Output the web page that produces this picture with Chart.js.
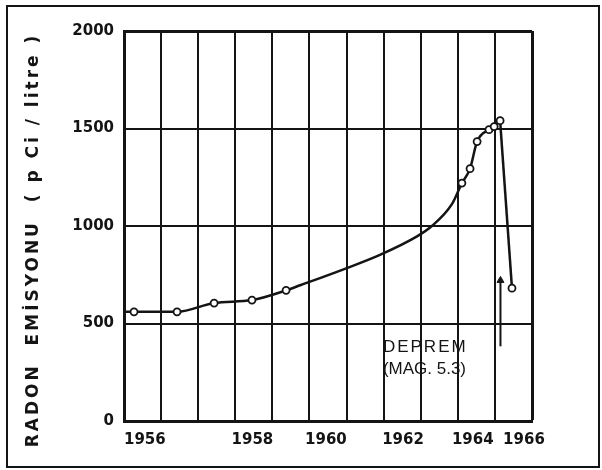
<!DOCTYPE html>
<html lang="tr">
<head>
<meta charset="UTF-8" />
<title>Radon emisyonu 1956-1966</title>
<script src="https://cdn.jsdelivr.net/npm/chart.js"></script>
<style>
  html, body { margin: 0; padding: 0; background: #fff; }
</style>
</head>
<body>
<canvas id="grafik" width="602" height="470"></canvas>
<script>
// x ekseni: her dikey çizgi bir birim (1956 + i); orijinal çizimde yıl etiketleri düzensiz yerleştirilmiş
const yillar = [1956.0, 1956.27, 1957.43, 1958.43, 1959.45, 1960.37, 1960.75, 1961.99, 1962.9, 1963.9,
                1964.3, 1964.84, 1965.11, 1965.33, 1965.52, 1965.84, 1965.98, 1966.14, 1966.46];
const radon = [560, 560, 560, 605, 620, 670, 696, 783, 852, 947,
               1000, 1112, 1220, 1294, 1433, 1494, 1510, 1540, 681];
const olcum = [false, true, true, true, true, true, false, false, false, false,
               false, false, true, true, true, true, true, true, true];
const depremYili = 1966.15;
const okDegerleri = [383, 721];
// etiketlerin çizimdeki yerleri (x ekseni biriminde) ve yazıları
const xEtiketYeri = [1956, 1958.9, 1960.88, 1962.96, 1964.84, 1966.22];
const xEtiketleri = ['1956', '1958', '1960', '1962', '1964', '1966'];

const tepe = radon.indexOf(Math.max(...radon));
const noktalar = yillar.map((x, i) => ({ x, y: radon[i] }));
const yukselis = noktalar.slice(0, tepe + 1);
const dusus = noktalar.slice(tepe);

const siyah = '#141414';

const cerceve = {
  id: 'cerceve',
  beforeDraw(chart) {
    const c = chart.ctx;
    c.save();
    c.fillStyle = '#fff';
    c.fillRect(0, 0, chart.width, chart.height);
    c.strokeStyle = siyah;
    c.lineWidth = 2;
    c.strokeRect(7, 6, 592, 461);
    c.restore();
  }
};

const yBaslik = {
  id: 'yBaslik',
  afterDraw(chart) {
    const c = chart.ctx;
    c.save();
    c.translate(34, 240);
    c.rotate(-Math.PI / 2);
    c.font = 'bold 17px "DejaVu Sans"';
    c.letterSpacing = '3px';
    c.fillStyle = siyah;
    c.textAlign = 'center';
    c.textBaseline = 'middle';
    c.fillText('RADON  EMİSYONU  ( p Ci / litre )', 0, 0);
    c.restore();
  }
};

const depremNotu = {
  id: 'depremNotu',
  afterDatasetsDraw(chart) {
    const { ctx: c, scales: { x, y } } = chart;
    const px = x.getPixelForValue(1962.98);
    const py = y.getPixelForValue(376);
    c.save();
    c.font = '17px "Liberation Sans"';
    c.fillStyle = siyah;
    c.textBaseline = 'middle';
    c.letterSpacing = '2px';
    c.fillText('DEPREM', px, py);
    c.letterSpacing = '0px';
    c.fillText('(MAG. 5.3)', px, py + 22);
    c.restore();
  }
};

const kalin = (c, max) => (c.tick && c.tick.value === max ? 3 : 2);
const yazi = { family: 'DejaVu Sans', size: 15, weight: 'bold' };

new Chart(document.getElementById('grafik'), {
  type: 'line',
  data: {
    datasets: [
      {
        data: yukselis,
        borderColor: siyah,
        borderWidth: 2.5,
        cubicInterpolationMode: 'monotone',
        pointRadius: (c) => (olcum[c.dataIndex] ? 3.5 : 0),
        pointBackgroundColor: '#fff',
        pointBorderColor: siyah,
        pointBorderWidth: 1.8
      },
      {
        data: dusus,
        borderColor: siyah,
        borderWidth: 2.5,
        tension: 0,
        pointRadius: [0, 3.5],
        pointBackgroundColor: '#fff',
        pointBorderColor: siyah,
        pointBorderWidth: 1.8
      },
      {
        data: okDegerleri.map((v) => ({ x: depremYili, y: v })),
        borderColor: siyah,
        borderWidth: 2,
        tension: 0,
        pointStyle: 'triangle',
        pointRadius: [0, 4],
        pointBackgroundColor: siyah,
        pointBorderColor: siyah,
        pointBorderWidth: 1
      }
    ]
  },
  options: {
    responsive: false,
    animation: false,
    events: [],
    layout: { padding: { top: 31, right: 70, bottom: 0, left: 0 } },
    plugins: { legend: { display: false }, tooltip: { enabled: false } },
    scales: {
      x: {
        type: 'linear',
        min: 1956,
        max: 1967,
        afterFit: (s) => { s.height = 0; },
        grid: { color: siyah, lineWidth: (c) => kalin(c, 1967), drawTicks: false },
        border: { color: siyah, width: 3 },
        ticks: { stepSize: 1, maxTicksLimit: 20, display: false }
      },
      xe: {
        type: 'linear',
        position: 'bottom',
        min: 1956,
        max: 1967,
        afterBuildTicks: (s) => { s.ticks = xEtiketYeri.map((v) => ({ value: v })); },
        afterFit: (s) => { s.height = 49; },
        grid: { display: false, drawTicks: false },
        border: { display: false },
        ticks: {
          autoSkip: false,
          maxRotation: 0,
          align: 'start',
          padding: 10,
          color: siyah,
          font: yazi,
          callback: (v, i) => xEtiketleri[i]
        }
      },
      y: {
        min: 0,
        max: 2000,
        afterFit: (s) => { s.width = 124; },
        grid: { color: siyah, lineWidth: (c) => kalin(c, 2000), drawTicks: false },
        border: { color: siyah, width: 3 },
        ticks: {
          stepSize: 500,
          padding: 10,
          color: siyah,
          font: yazi,
          callback: (v) => String(v)
        }
      }
    }
  },
  plugins: [cerceve, yBaslik, depremNotu]
});
</script>
</body>
</html>
